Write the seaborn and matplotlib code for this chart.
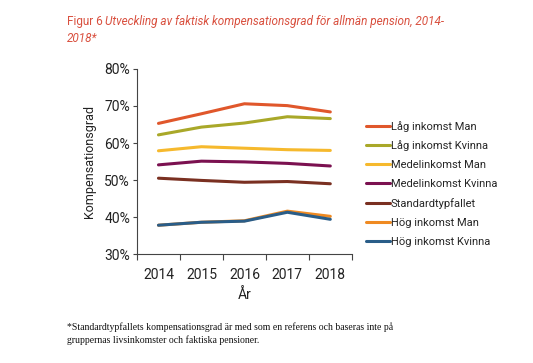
import pandas as pd
import numpy as np
import matplotlib
matplotlib.use('Agg')
import matplotlib.pyplot as plt
import seaborn as sns

years = [2014, 2015, 2016, 2017, 2018]
series_names = ['Låg inkomst Man', 'Låg inkomst Kvinna', 'Medelinkomst Man',
                'Medelinkomst Kvinna', 'Standardtypfallet', 'Hög inkomst Man',
                'Hög inkomst Kvinna']
lag_man = [65.3, 67.9, 70.6, 70.1, 68.4]
lag_kvinna = [62.2, 64.3, 65.4, 67.1, 66.6]
medel_man = [57.9, 59.0, 58.6, 58.2, 58.0]
medel_kvinna = [54.1, 55.1, 54.9, 54.5, 53.8]
standard = [50.5, 49.9, 49.4, 49.6, 49.0]
hog_man = [37.8, 38.6, 39.0, 41.6, 40.2]
hog_kvinna = [37.8, 38.6, 38.9, 41.3, 39.4]
values = [lag_man, lag_kvinna, medel_man, medel_kvinna, standard, hog_man, hog_kvinna]
colors = ['#e0572b', '#a9a829', '#f6b92d', '#7b1150', '#7a3021', '#ef8a22', '#2a5d88']

rows = []
for name, vals in zip(series_names, values):
    for y, v in zip(years, vals):
        rows.append({'År': y, 'Kompensationsgrad': v, 'Serie': name})
df = pd.DataFrame(rows)

sns.set_theme(style='white')
plt.rcParams['font.family'] = ['Roboto', 'DejaVu Sans']

fig = plt.figure(figsize=(5.33, 3.63), dpi=100)
ax = fig.add_axes([0.257, 0.300, 0.403, 0.510])
sns.lineplot(data=df, x='År', y='Kompensationsgrad', hue='Serie',
             hue_order=series_names, palette=colors, linewidth=2.2, ax=ax,
             legend=False)

ax.set_ylim(30, 80)
ax.set_yticks(range(30, 81, 10))
ax.set_yticklabels([f'{t}%' for t in range(30, 81, 10)], fontsize=10, color='#222222')
ax.set_xlim(2013.5, 2018.5)
ax.set_xticks(np.arange(2013.5, 2019, 1.0))
ax.set_xticklabels([])
ax.set_xticks(years, minor=True)
ax.set_xticklabels([str(y) for y in years], minor=True, fontsize=10, color='#222222')
ax.tick_params(axis='x', which='major', direction='out', length=4, width=0.8, color='#444444', bottom=True)
ax.tick_params(axis='x', which='minor', length=0, pad=10)
ax.tick_params(axis='y', direction='out', length=3, width=0.8, color='#444444', left=True, pad=2)
for s in ['top', 'right']:
    ax.spines[s].set_visible(False)
for s in ['left', 'bottom']:
    ax.spines[s].set_color('#444444')
    ax.spines[s].set_linewidth(0.8)
ax.set_xlabel('År', fontsize=10, color='#222222', labelpad=4)
ax.set_ylabel('Kompensationsgrad', fontsize=9, color='#222222', labelpad=6)

handles = [plt.Line2D([], [], color=c, linewidth=2.2) for c in colors]
fig.legend(handles, series_names, loc='upper left', bbox_to_anchor=(0.678, 0.680),
           frameon=False, fontsize=8, handlelength=2.2, handletextpad=0.05,
           labelspacing=0.80, borderaxespad=0)

fig.text(0.126, 0.94, 'Figur 6', color='#d9503f', fontsize=8.5, va='center')
fig.text(0.197, 0.94, 'Utveckling av faktisk kompensationsgrad för allmän pension, 2014-',
         color='#d9503f', fontsize=8.5, style='italic', va='center')
fig.text(0.126, 0.895, '2018*', color='#d9503f', fontsize=8.5, style='italic', va='center')

fig.text(0.126, 0.10, '*Standardtypfallets kompensationsgrad är med som en referens och baseras inte på',
         family='Liberation Serif', fontsize=7, color='#111111', va='center')
fig.text(0.126, 0.063, 'gruppernas livsinkomster och faktiska pensioner.',
         family='Liberation Serif', fontsize=7, color='#111111', va='center')

fig.savefig('out.png', dpi=100)
